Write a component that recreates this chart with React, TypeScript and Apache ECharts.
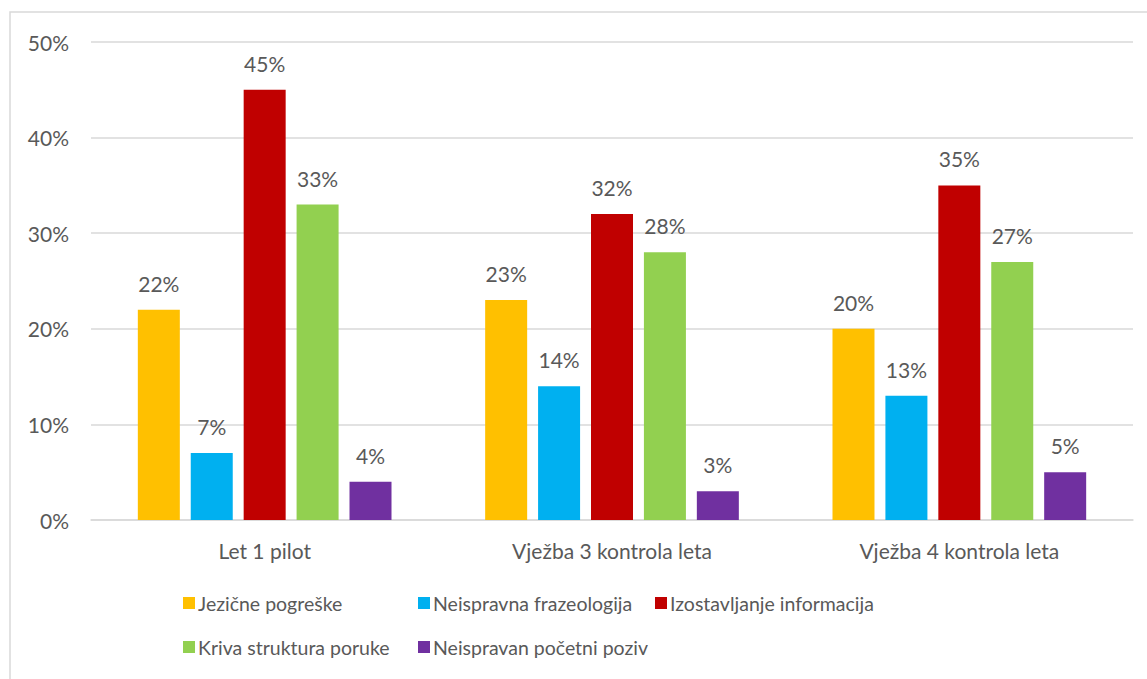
import React, { useEffect, useRef } from "react";
import * as echarts from "echarts";

const categories = ["Let 1 pilot", "Vježba 3 kontrola leta", "Vježba 4 kontrola leta"];
const seriesNames = [
  "Jezične pogreške",
  "Neispravna frazeologija",
  "Izostavljanje informacija",
  "Kriva struktura poruke",
  "Neispravan početni poziv",
];
const jezicne = [22, 23, 20];
const frazeologija = [7, 14, 13];
const izostavljanje = [45, 32, 35];
const struktura = [33, 28, 27];
const pocetni = [4, 3, 5];
const seriesValues = [jezicne, frazeologija, izostavljanje, struktura, pocetni];
const colors = ["#FFC000", "#00B0F0", "#C00000", "#92D050", "#7030A0"];
const yTicks = [0, 10, 20, 30, 40, 50];

const FONT = "Lato";
const TEXT = "#595959";
const FS = 21;
const LFS = 19.5;

export default function App() {
  const ref = useRef<HTMLDivElement>(null);
  useEffect(() => {
    if (!ref.current) return;
    const chart = echarts.init(ref.current, undefined, { renderer: "svg" });
    const legendPos = [
      { left: 183, top: 593 },
      { left: 418, top: 593 },
      { left: 655, top: 593 },
      { left: 183, top: 637 },
      { left: 418, top: 637 },
    ];
    chart.setOption({
      animation: false,
      textStyle: { fontFamily: FONT },
      graphic: [
        {
          type: "rect",
          shape: { x: 10, y: 12, width: 1160, height: 700 },
          style: { fill: "none", stroke: "#d9d9d9", lineWidth: 1.5 },
          silent: true,
        },
      ],
      legend: seriesNames.map((n, i) => ({
        data: [n],
        left: legendPos[i].left,
        top: legendPos[i].top,
        itemWidth: 12,
        itemHeight: 12,
        itemGap: 0,
        padding: 0,
        icon: "rect",
        textStyle: { color: TEXT, fontSize: LFS, fontFamily: FONT, padding: [0, 0, 0, -2] },
      })),
      grid: { left: 91, right: 14, top: 42, bottom: 159, containLabel: false },
      xAxis: {
        type: "category",
        data: categories,
        axisLine: { show: true, lineStyle: { color: "#d9d9d9", width: 1.5 } },
        axisTick: { show: false },
        axisLabel: { color: TEXT, fontSize: FS, margin: 20, fontFamily: FONT },
      },
      yAxis: {
        type: "value",
        min: yTicks[0],
        max: yTicks[yTicks.length - 1],
        interval: 10,
        axisLine: { show: false },
        axisTick: { show: false },
        splitLine: { lineStyle: { color: "#d9d9d9", width: 1.5 } },
        axisLabel: {
          color: TEXT,
          fontSize: FS,
          margin: 22,
          fontFamily: FONT,
          formatter: (v: number) => `${v}%`,
        },
      },
      series: seriesNames.map((n, i) => ({
        name: n,
        type: "bar",
        data: seriesValues[i],
        barWidth: 42,
        barGap: "26%",
        itemStyle: { color: colors[i] },
        label: {
          show: true,
          position: "top",
          distance: 16,
          color: TEXT,
          fontSize: FS,
          fontFamily: FONT,
          formatter: (p: any) => `${p.value}%`,
        },
      })),
    });
    return () => chart.dispose();
  }, []);
  return (
    <div
      ref={ref}
      style={{ position: "fixed", left: 0, top: 0, width: 1147, height: 679, background: "#fff" }}
    />
  );
}
